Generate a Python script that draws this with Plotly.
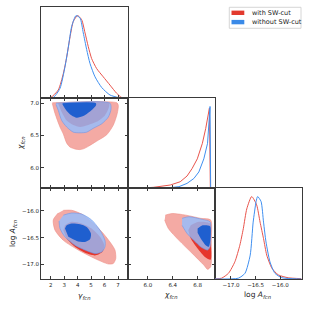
import plotly.graph_objects as go

# ---------------- data ----------------
# 1D marginal of gamma_fcn
gamma_red_x = [1.28, 2.0, 2.56, 2.94, 3.19, 3.44, 3.68, 4.0, 4.30, 4.55, 4.79, 5.04, 5.41, 5.90, 6.40, 6.90, 7.27, 7.74]
gamma_red_p = [0.0, 0.01, 0.10, 0.30, 0.50, 0.745, 0.93, 1.0, 0.95, 0.79, 0.625, 0.48, 0.36, 0.26, 0.16, 0.06, 0.01, 0.0]
gamma_blue_x = [1.28, 2.19, 2.69, 3.06, 3.31, 3.56, 3.88, 4.18, 4.42, 4.67, 4.92, 5.29, 5.79, 6.40, 7.02, 7.74]
gamma_blue_p = [0.0, 0.01, 0.12, 0.38, 0.62, 0.87, 1.0, 0.97, 0.79, 0.59, 0.42, 0.26, 0.13, 0.04, 0.01, 0.0]

# 1D marginal of chi_fcn
chi_red_x = [5.68, 5.80, 6.09, 6.36, 6.52, 6.63, 6.71, 6.795, 6.877, 6.93, 6.99, 7.005]
chi_red_p = [0.0, 0.0, 0.012, 0.04, 0.08, 0.15, 0.24, 0.36, 0.55, 0.73, 0.98, 0.0]
chi_blue_x = [5.68, 6.25, 6.50, 6.63, 6.74, 6.82, 6.90, 6.96, 7.0, 7.01]
chi_blue_p = [0.0, 0.0, 0.02, 0.06, 0.12, 0.20, 0.36, 0.55, 1.0, 0.0]

# 1D marginal of log A_fcn
logA_red_x = [-17.33, -17.19, -17.05, -16.92, -16.82, -16.75, -16.68, -16.58, -16.48, -16.41, -16.34, -16.275, -16.17, -16.04, -15.84, -15.57]
logA_red_p = [0.0, 0.01, 0.07, 0.21, 0.41, 0.61, 0.85, 1.0, 0.90, 0.69, 0.49, 0.29, 0.13, 0.05, 0.015, 0.004]
logA_blue_x = [-17.33, -16.85, -16.715, -16.61, -16.55, -16.49, -16.46, -16.39, -16.34, -16.29, -16.21, -16.11, -15.97, -15.57]
logA_blue_p = [0.0, 0.01, 0.07, 0.29, 0.69, 0.94, 1.0, 0.94, 0.69, 0.45, 0.21, 0.07, 0.016, 0.0]

# 2D contours: gamma_fcn vs chi_fcn
gc_red95_g = [2.12, 2.32, 2.69, 2.94, 3.19, 3.43, 3.80, 4.18, 4.47, 4.79, 5.41, 6.16, 6.65, 6.94, 7.02, 6.92, 2.12]
gc_red95_c = [6.995, 6.84, 6.63, 6.52, 6.38, 6.32, 6.29, 6.28, 6.295, 6.33, 6.41, 6.51, 6.66, 6.84, 6.965, 7.005, 7.005]
gc_red68_g = [2.56, 2.82, 3.19, 3.68, 4.18, 4.79, 5.41, 6.03, 6.33, 6.33, 2.56]
gc_red68_c = [6.99, 6.86, 6.73, 6.66, 6.63, 6.66, 6.71, 6.81, 6.94, 7.0, 7.0]
gc_blue95_g = [2.39, 2.56, 2.82, 3.19, 3.68, 4.18, 4.67, 5.16, 5.79, 6.28, 6.48, 6.40, 2.39]
gc_blue95_c = [6.98, 6.89, 6.73, 6.63, 6.55, 6.54, 6.55, 6.61, 6.68, 6.785, 6.91, 7.0, 7.0]
gc_blue68_g = [2.88, 3.19, 3.56, 3.93, 4.42, 4.92, 5.36, 5.36, 2.88]
gc_blue68_c = [6.98, 6.88, 6.81, 6.775, 6.80, 6.87, 6.965, 7.0, 7.0]

# 2D contours: gamma_fcn vs log A_fcn
ga_red95_g = [2.56, 2.19, 2.32, 2.94, 4.05, 5.29, 6.28, 6.65, 6.83, 6.77, 6.40, 5.79, 5.04, 4.30, 3.56, 2.94]
ga_red95_a = [-16.04, -16.17, -16.36, -16.55, -16.73, -16.89, -16.99, -16.98, -16.89, -16.73, -16.58, -16.39, -16.205, -16.06, -15.99, -15.99]
ga_red68_g = [3.06, 3.56, 4.30, 5.04, 5.66, 5.98, 5.83, 5.29, 4.55, 3.80, 3.19, 2.94]
ga_red68_a = [-16.27, -16.205, -16.235, -16.33, -16.485, -16.64, -16.765, -16.83, -16.78, -16.67, -16.515, -16.36]
ga_blue95_g = [2.94, 3.56, 4.30, 5.04, 5.66, 6.03, 6.03, 5.79, 5.29, 4.55, 3.80, 3.06, 2.69, 2.62]
ga_blue95_a = [-16.08, -16.04, -16.06, -16.17, -16.36, -16.55, -16.67, -16.765, -16.795, -16.73, -16.64, -16.485, -16.33, -16.19]
ga_blue68_g = [3.06, 3.19, 3.56, 4.18, 4.67, 4.99, 4.92, 4.55, 3.93, 3.31]
ga_blue68_a = [-16.33, -16.27, -16.235, -16.25, -16.30, -16.42, -16.53, -16.58, -16.56, -16.485]

# 2D contours: chi_fcn vs log A_fcn
ca_red95_c = [6.28, 6.39, 6.61, 6.85, 7.01, 7.02, 7.01, 6.96, 6.90, 6.71, 6.50, 6.33, 6.27]
ca_red95_a = [-16.08, -16.05, -16.08, -16.14, -16.17, -16.55, -17.04, -17.09, -17.01, -16.79, -16.55, -16.33, -16.17]
ca_red68_c = [6.69, 6.82, 7.0, 7.01, 7.01, 6.93, 6.80, 6.69, 6.65]
ca_red68_a = [-16.27, -16.205, -16.235, -16.55, -16.91, -16.87, -16.70, -16.515, -16.36]
ca_blue95_c = [6.55, 6.66, 6.88, 7.0, 7.01, 7.0, 6.96, 6.85, 6.74, 6.63, 6.55]
ca_blue95_a = [-16.14, -16.11, -16.16, -16.205, -16.45, -16.67, -16.73, -16.67, -16.55, -16.42, -16.27]
ca_blue68_c = [6.80, 6.88, 7.0, 7.01, 6.98, 6.93, 6.85, 6.80]
ca_blue68_a = [-16.33, -16.27, -16.285, -16.485, -16.67, -16.64, -16.515, -16.41]

gamma_ticks = [2, 3, 4, 5, 6, 7]
chi_ticks = [6.0, 6.4, 6.8]
chi_yticks = [6.0, 6.5, 7.0]
logA_ticks = [-17.0, -16.5, -16.0]

series_names = ["with SW-cut", "without SW-cut"]

# ---------------- styles ----------------
W = 309
RED_LIGHT = "#f4aaa4"
RED_DARK = "#e6362c"
BLUE_LIGHT = "rgba(146,190,255,0.80)"
BLUE_DARK = "#1f5fcf"
RED_LINE = "#e8544c"
BLUE_LINE = "#3f8ff0"
AX = "#3a3a3a"
FONT = "DejaVu Sans"

X1 = [41 / W, 128 / W]
X2 = [128 / W, 214.7 / W]
X3 = [214.7 / W, 301.5 / W]
Y1 = [1 - 98.3 / W, 1 - 7.3 / W]
Y2 = [1 - 188.3 / W, 1 - 98.3 / W]
Y3 = [1 - 279 / W, 1 - 188.3 / W]

gamma_range = [1.28, 7.74]
chi_range = [5.68, 7.075]
logA_xrange = [-17.33, -15.57]
logA_yrange = [-17.27, -15.58]

fig = go.Figure()


def poly(x, y, ax, fill, edge=None, ew=0.0):
    fig.add_trace(go.Scatter(
        x=x, y=y, xaxis="x" + ax, yaxis="y" + ax, mode="lines", fill="toself",
        fillcolor=fill, line=dict(color=edge or fill, width=ew, shape="spline", smoothing=0.7),
        hoverinfo="skip", showlegend=False))


def curve(x, y, ax, color, shape="spline"):
    fig.add_trace(go.Scatter(
        x=x, y=y, xaxis="x" + ax, yaxis="y" + ax, mode="lines",
        line=dict(color=color, width=1.0, shape=shape, smoothing=0.6),
        hoverinfo="skip", showlegend=False))


# diagonal panels
curve(gamma_red_x, gamma_red_p, "", RED_LINE)
curve(gamma_blue_x, gamma_blue_p, "", BLUE_LINE)
curve(chi_red_x, chi_red_p, "3", RED_LINE, "linear")
curve(chi_blue_x, chi_blue_p, "3", BLUE_LINE, "linear")
curve(logA_red_x, logA_red_p, "6", RED_LINE)
curve(logA_blue_x, logA_blue_p, "6", BLUE_LINE)

# 2D panels
for ax, (r95x, r95y, r68x, r68y, b95x, b95y, b68x, b68y) in [
    ("2", (gc_red95_g, gc_red95_c, gc_red68_g, gc_red68_c, gc_blue95_g, gc_blue95_c, gc_blue68_g, gc_blue68_c)),
    ("4", (ga_red95_g, ga_red95_a, ga_red68_g, ga_red68_a, ga_blue95_g, ga_blue95_a, ga_blue68_g, ga_blue68_a)),
    ("5", (ca_red95_c, ca_red95_a, ca_red68_c, ca_red68_a, ca_blue95_c, ca_blue95_a, ca_blue68_c, ca_blue68_a)),
]:
    poly(r95x, r95y, ax, RED_LIGHT, "#ef8f87", 0.6)
    poly(r68x, r68y, ax, RED_DARK)
    poly(b95x, b95y, ax, BLUE_LIGHT, "#6f95e6", 0.6)
    poly(b68x, b68y, ax, BLUE_DARK)


def axis(domain, rng, ticks, anchor, labels, mirror, fmt):
    return dict(domain=domain, range=rng, tickvals=ticks, anchor=anchor,
                showticklabels=labels, ticks="inside" if ticks else "",
                ticklen=3, tickwidth=0.8, tickcolor=AX, mirror=mirror,
                showline=True, linecolor=AX, linewidth=1, showgrid=False,
                zeroline=False, tickformat=fmt,
                tickfont=dict(family=FONT, size=5.5, color="#222222"))


fig.update_layout(
    width=W, height=W, margin=dict(l=0, r=0, t=0, b=0),
    paper_bgcolor="white", plot_bgcolor="white", showlegend=False,
    xaxis=axis(X1, gamma_range, gamma_ticks, "y", False, True, "d"),
    yaxis=axis(Y1, [0, 1.1], [], "x", False, True, ""),
    xaxis2=axis(X1, gamma_range, gamma_ticks, "y2", False, "ticks", "d"),
    yaxis2=axis(Y2, chi_range, chi_yticks, "x2", True, "ticks", ".1f"),
    xaxis3=axis(X2, chi_range, chi_ticks, "y3", False, True, ".1f"),
    yaxis3=axis(Y2, [0, 1.1], [], "x3", False, True, ""),
    xaxis4=axis(X1, gamma_range, gamma_ticks, "y4", True, "ticks", "d"),
    yaxis4=axis(Y3, logA_yrange, logA_ticks, "x4", True, "ticks", ".1f"),
    xaxis5=axis(X2, chi_range, chi_ticks, "y5", True, "ticks", ".1f"),
    yaxis5=axis(Y3, logA_yrange, logA_ticks, "x5", False, "ticks", ".1f"),
    xaxis6=axis(X3, logA_xrange, logA_ticks, "y6", True, True, ".1f"),
    yaxis6=axis(Y3, [0, 1.1], [], "x6", False, True, ""),
)

# axis labels
lab = dict(family=FONT, size=7.5, color="#222222")
ann = [
    dict(text="<i>γ</i><sub><i>fcn</i></sub>", x=84.5 / W, y=1 - 296 / W),
    dict(text="<i>χ</i><sub><i>fcn</i></sub>", x=171 / W, y=1 - 295 / W),
    dict(text="log <i>A</i><sub><i>fcn</i></sub>", x=257 / W, y=1 - 295 / W),
    dict(text="<i>χ</i><sub><i>fcn</i></sub>", x=21 / W, y=1 - 143 / W, textangle=-90),
    dict(text="log <i>A</i><sub><i>fcn</i></sub>", x=13 / W, y=1 - 234 / W, textangle=-90),
]
for a in ann:
    fig.add_annotation(xref="paper", yref="paper", showarrow=False, font=lab,
                       xanchor="center", yanchor="middle", **a)

# legend (drawn as a box with colour patches and real text)
fig.add_shape(type="rect", xref="paper", yref="paper", x0=229.3 / W, x1=301 / W,
              y0=1 - 28.3 / W, y1=1 - 7.3 / W, line=dict(color="#cccccc", width=0.8),
              fillcolor="white")
for i, (name, col) in enumerate(zip(series_names, ["#e23a2e", "#3a8ae8"])):
    yc = 12.8 + i * 9.3
    fig.add_shape(type="rect", xref="paper", yref="paper", x0=231.5 / W, x1=244.3 / W,
                  y0=1 - (yc + 2.2) / W, y1=1 - (yc - 2.2) / W, line=dict(width=0),
                  fillcolor=col)
    fig.add_annotation(xref="paper", yref="paper", x=249.5 / W, y=1 - yc / W, text=name,
                       showarrow=False, xanchor="left", yanchor="middle",
                       font=dict(family=FONT, size=6.5, color="#222222"))

fig.write_html("out.html", config={"displayModeBar": False},
               post_script="document.body.style.margin='0';")
